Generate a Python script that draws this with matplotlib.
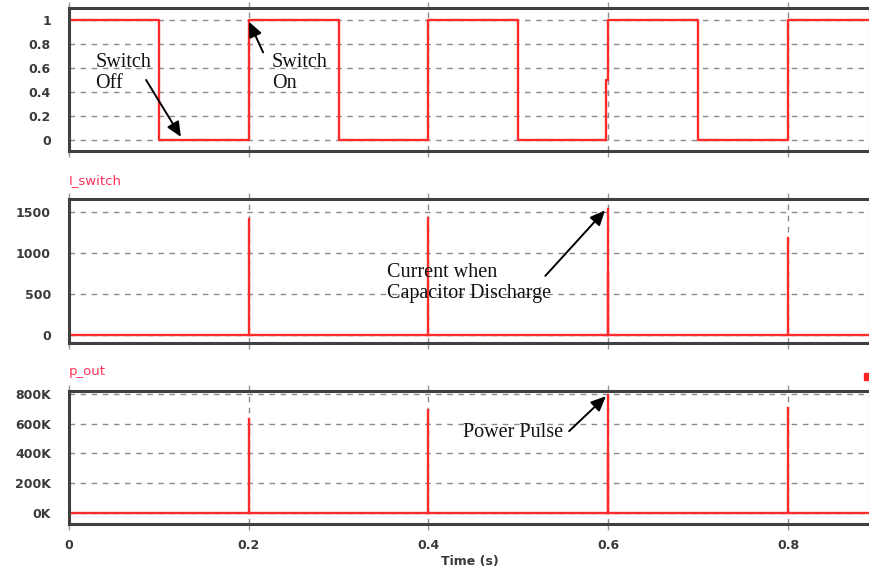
import matplotlib
matplotlib.use("Agg")
import matplotlib.pyplot as plt
from matplotlib.patches import Rectangle

# ---- data ----
switch_t = [0.0, 0.1, 0.2, 0.3, 0.4, 0.5, 0.598, 0.6, 0.7, 0.8, 0.9]
switch_v = [1, 0, 1, 0, 1, 0, 0.5, 1, 0, 1, 1]

i_spike_t = [0.2, 0.4, 0.6, 0.5995, 0.8]
i_spike_v = [1420, 1430, 1540, 760, 1185]

p_spike_t = [0.2, 0.4, 0.6, 0.5995, 0.8]
p_spike_v = [630e3, 690e3, 793e3, 395e3, 705e3]

x_ticks = [0, 0.2, 0.4, 0.6, 0.8]
x_ticklabels = ["0", "0.2", "0.4", "0.6", "0.8"]
top_yticks = [0, 0.2, 0.4, 0.6, 0.8, 1]
top_ylabels = ["0", "0.2", "0.4", "0.6", "0.8", "1"]
mid_yticks = [0, 500, 1000, 1500]
mid_ylabels = ["0", "500", "1000", "1500"]
bot_yticks = [0, 200e3, 400e3, 600e3, 800e3]
bot_ylabels = ["0K", "200K", "400K", "600K", "800K"]

RED = "#ff2a2a"
TICKC = "#3a3a3a"
XMAX = 0.8913
TFONT = dict(fontfamily="DejaVu Sans", fontsize=9, color=TICKC, fontweight="bold")

fig = plt.figure(figsize=(8.7, 5.73), dpi=100)
L = 69 / 870
ax1 = fig.add_axes([L, 1 - 151 / 573, 1 - L, 143 / 573])
ax2 = fig.add_axes([L, 1 - 343 / 573, 1 - L, 144 / 573])
ax3 = fig.add_axes([L, 1 - 524 / 573, 1 - L, 133 / 573])

def style(ax, yt, yl, ylim, show_x):
    ax.set_xlim(0, XMAX)
    ax.set_ylim(*ylim)
    ax.set_xticks(x_ticks)
    ax.set_yticks(yt)
    ax.set_yticklabels(yl, **TFONT)
    if show_x:
        ax.set_xticklabels(x_ticklabels, **TFONT)
    else:
        ax.set_xticklabels([])
    ax.tick_params(axis="y", length=0, pad=13)
    ax.tick_params(axis="x", length=4, width=1, color="#999999",
                   direction="out", top=True, pad=7)
    ax.grid(True, color="#8a8a8a", linestyle=(0, (4, 4)), linewidth=1.0)
    for s in ax.spines.values():
        s.set_color("#404040")
        s.set_linewidth(2.2)
    ax.set_axisbelow(True)

# top: switch signal
ax1.plot(switch_t, switch_v, drawstyle="steps-post", color=RED, lw=1.7)
style(ax1, top_yticks, top_ylabels, (-0.092, 1.1), False)

# middle: current
ax2.plot([0, XMAX], [0, 0], color=RED, lw=1.7)
for t, v in zip(i_spike_t, i_spike_v):
    ax2.plot([t, t], [0, v], color=RED, lw=1.7)
style(ax2, mid_yticks, mid_ylabels, (-98, 1658), False)

# bottom: power
ax3.plot([0, XMAX], [0, 0], color=RED, lw=1.7)
for t, v in zip(p_spike_t, p_spike_v):
    ax3.plot([t, t], [0, v], color=RED, lw=1.7)
style(ax3, bot_yticks, bot_ylabels, (-75e3, 820e3), True)
ax3.set_xlabel("Time (s)", labelpad=2, **TFONT)

# panel labels
lab = dict(color="#ff3355", fontfamily="DejaVu Sans", fontsize=9.5,
           va="center", ha="left")
fig.text(L, 1 - 181 / 573, "I_switch", **lab)
fig.text(L, 1 - 372 / 573, "p_out", **lab)
fig.add_artist(Rectangle((864 / 870, 1 - 380 / 573), 6 / 870, 7 / 573,
                         transform=fig.transFigure, color="#ff2020"))

# annotations
serif = dict(fontfamily="Liberation Serif", fontsize=14.5, color="#111111")
arrow = dict(arrowstyle="-|>,head_length=0.9,head_width=0.4", color="black",
             lw=1.4, shrinkA=0, shrinkB=0)

ax1.text(0.0295, 0.56, "Switch\nOff", va="center", ha="left", linespacing=1.15, **serif)
ax1.annotate("", xy=(0.1246, 0.025), xytext=(0.0858, 0.5), arrowprops=arrow)
ax1.text(0.2255, 0.56, "Switch\nOn", va="center", ha="left", linespacing=1.15, **serif)
ax1.annotate("", xy=(0.2003, 0.985), xytext=(0.216, 0.73), arrowprops=arrow)

ax2.text(0.354, 630, "Current when\nCapacitor Discharge", va="center", ha="left",
         linespacing=1.15, **serif)
ax2.annotate("", xy=(0.5965, 1520), xytext=(0.530, 720), arrowprops=arrow)

ax3.text(0.438, 542e3, "Power Pulse", va="center", ha="left", **serif)
ax3.annotate("", xy=(0.5975, 785e3), xytext=(0.5565, 550e3), arrowprops=arrow)

fig.savefig("out.png", dpi=100)
